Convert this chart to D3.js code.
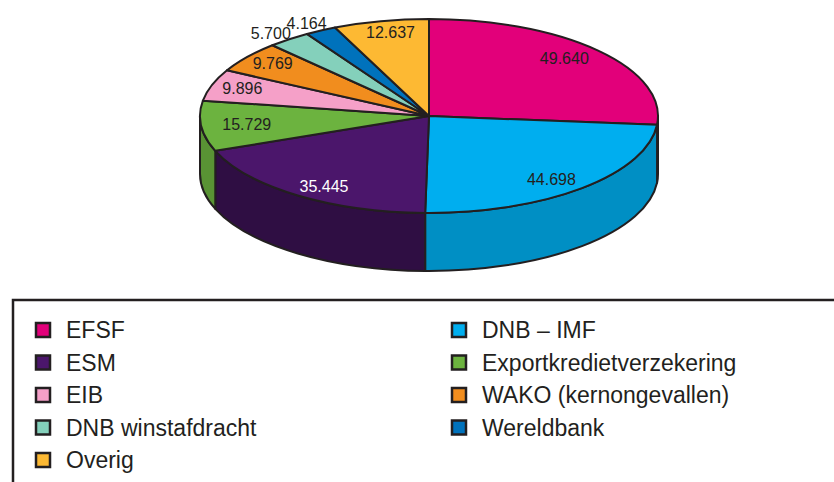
<!DOCTYPE html>
<html>
<head>
<meta charset="utf-8">
<script src="https://cdn.jsdelivr.net/npm/d3@7"></script>
<style>
  body { margin: 0; background: #fff; }
  svg { display: block; font-family: "Liberation Sans", Arial, sans-serif; }
</style>
</head>
<body>
<div id="chart"></div>
<script>
// slices, clockwise from 12 o'clock
const categories = ['EFSF', 'DNB \u2013 IMF', 'ESM', 'Exportkredietverzekering', 'EIB',
  'WAKO (kernongevallen)', 'DNB winstafdracht', 'Wereldbank', 'Overig'];
const values = [49640, 44698, 35445, 15729, 9896, 9769, 5700, 4164, 12637];
const colors = ['#e2007a', '#00aeef', '#4b166b', '#6cb33f', '#f5a0c8',
  '#f18d1e', '#84d0bb', '#0072bc', '#fdb933'];

const width = 834, height = 482;
const cx = 429, cy = 116, rx = 229, ry = 97, depth = 58;
const ink = '#231f20';

const nl = d3.formatLocale({ decimal: ',', thousands: '.', grouping: [3], currency: ['€', ''] });
const fmt = nl.format(',d');

const svg = d3.select('#chart').append('svg')
  .attr('width', width)
  .attr('height', height);

const data = categories.map((name, i) => ({ name, value: values[i], color: colors[i] }));
const arcs = d3.pie().sort(null).value(d => d.value)(data);

const pt = (a, dy = 0, fx = 1, fy = fx) => [cx + rx * fx * Math.sin(a), cy - ry * fy * Math.cos(a) + dy];

// side walls, only the front half is visible
const walls = svg.append('g');
arcs.forEach(d => {
  const t0 = Math.max(d.startAngle, Math.PI / 2);
  const t1 = Math.min(d.endAngle, Math.PI * 1.5);
  if (t1 <= t0) return;
  const big = t1 - t0 > Math.PI ? 1 : 0;
  const p0 = pt(t0), p1 = pt(t1), q1 = pt(t1, depth), q0 = pt(t0, depth);
  walls.append('path')
    .attr('d', `M${p0}A${rx},${ry} 0 ${big} 1 ${p1}L${q1}A${rx},${ry} 0 ${big} 0 ${q0}Z`)
    .attr('fill', d3.color(d.data.color).darker(d.data.name === 'ESM' ? 1.3 : 0.55))
    .attr('stroke', ink)
    .attr('stroke-width', 2)
    .attr('stroke-linejoin', 'round');
});

// top faces
const tops = svg.append('g');
arcs.forEach(d => {
  const big = d.endAngle - d.startAngle > Math.PI ? 1 : 0;
  tops.append('path')
    .attr('d', `M${cx},${cy}L${pt(d.startAngle)}A${rx},${ry} 0 ${big} 1 ${pt(d.endAngle)}Z`)
    .attr('fill', d.data.color)
    .attr('stroke', ink)
    .attr('stroke-width', 2)
    .attr('stroke-linejoin', 'round');
});

// value labels: thin slices push the label outwards, tiny ones sit outside the rim
const labelRadiusX = d3.scaleThreshold().domain([0.26, 0.35]).range([1.13, 0.86, 0.8]);
const labelRadiusY = d3.scaleThreshold().domain([0.26, 0.35]).range([1.08, 0.9, 0.88]);
svg.append('g').selectAll('text')
  .data(arcs)
  .join('text')
  .attr('transform', d => {
    const mid = (d.startAngle + d.endAngle) / 2;
    const span = d.endAngle - d.startAngle;
    return `translate(${pt(mid, 0, labelRadiusX(span), labelRadiusY(span))})`;
  })
  .attr('text-anchor', 'middle')
  .attr('dy', '0.35em')
  .attr('font-size', 16)
  .attr('fill', d => d3.hsl(d.data.color).l < 0.3 ? '#fff' : ink)
  .text(d => fmt(d.data.value));

// legend
const legend = svg.append('g');
legend.append('rect')
  .attr('x', 13).attr('y', 300)
  .attr('width', 900).attr('height', 300)
  .attr('fill', 'none')
  .attr('stroke', ink)
  .attr('stroke-width', 2.5);

const colX = [35, 451], rowY0 = 330, rowStep = 32.5;
const item = legend.selectAll('g.item')
  .data(data)
  .join('g')
  .attr('class', 'item')
  .attr('transform', (d, i) => `translate(${colX[i % 2]},${rowY0 + Math.floor(i / 2) * rowStep})`);

item.append('rect')
  .attr('x', 1).attr('y', -7)
  .attr('width', 14).attr('height', 14)
  .attr('fill', d => d.color)
  .attr('stroke', ink)
  .attr('stroke-width', 2.5);

item.append('text')
  .attr('x', 31)
  .attr('dy', '0.36em')
  .attr('font-size', 23)
  .attr('fill', ink)
  .text(d => d.name);
</script>
</body>
</html>
